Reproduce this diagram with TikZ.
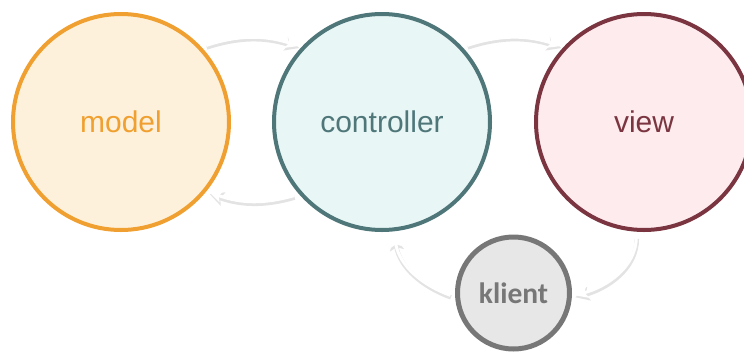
\documentclass[tikz,border=0pt]{standalone}
\usepackage{fontspec}
\setmainfont{Liberation Sans}
\newfontfamily\klientfont{Carlito}
\usetikzlibrary{arrows.meta}
\definecolor{modelc}{HTML}{F0A030}
\definecolor{modelf}{HTML}{FEF1DB}
\definecolor{ctrlc}{HTML}{4F777A}
\definecolor{ctrlf}{HTML}{E9F6F6}
\definecolor{viewc}{HTML}{7A3540}
\definecolor{viewf}{HTML}{FDEBEE}
\definecolor{klientc}{HTML}{777777}
\definecolor{klientf}{HTML}{E7E7E7}
\begin{document}
\begin{tikzpicture}[x=1pt,y=-1pt,
  bigcircle/.style={circle, line width=4pt, minimum size=216pt, inner sep=0pt,
    font=\fontsize{30}{30}\selectfont, text height=20pt, text depth=0pt},
  smallcircle/.style={circle, line width=5pt, minimum size=112pt, inner sep=0pt,
    font=\klientfont\bfseries\fontsize{29.5}{30}\selectfont, text height=20pt, text depth=0pt},
  conn/.style={draw=white, line width=3pt, shorten <=5pt, shorten >=3pt,
    -{Stealth[length=13pt,width=12pt,inset=3pt]}},
  connshadow/.style={draw=black!11, line width=4.5pt, shorten <=5pt, shorten >=3pt,
    -{Stealth[length=14pt,width=14pt,inset=3pt]},
    transform canvas={shift={(0.5,2)}}},
]
\useasboundingbox (0,0) rectangle (744,354);
\node[bigcircle, draw=modelc, fill=modelf, text=modelc] (model) at (121,122) {model};
\node[bigcircle, draw=ctrlc, fill=ctrlf, text=ctrlc] (controller) at (382,122) {controller};
\node[bigcircle, draw=viewc, fill=viewf, text=viewc] (view) at (644,122) {view};
\node[smallcircle, draw=klientc, fill=klientf, text=klientc] (klient) at (513.5,293) {klient};

\draw[connshadow] (model.43) to[bend left=18] (controller.137);
\draw[conn] (model.43) to[bend left=18] (controller.137);
\draw[connshadow] (controller.-139) to[bend left=18] (model.-39);
\draw[conn] (controller.-139) to[bend left=18] (model.-39);
\draw[connshadow] (controller.43) to[bend left=18] (view.137);
\draw[conn] (controller.43) to[bend left=18] (view.137);
\draw[connshadow] (view.-94) to[out=-90,in=15] (klient.-3);
\draw[conn] (view.-94) to[out=-90,in=15] (klient.-3);
\draw[connshadow] (klient.184) to[out=160,in=-80] (controller.-84);
\draw[conn] (klient.184) to[out=160,in=-80] (controller.-84);
\end{tikzpicture}
\end{document}
